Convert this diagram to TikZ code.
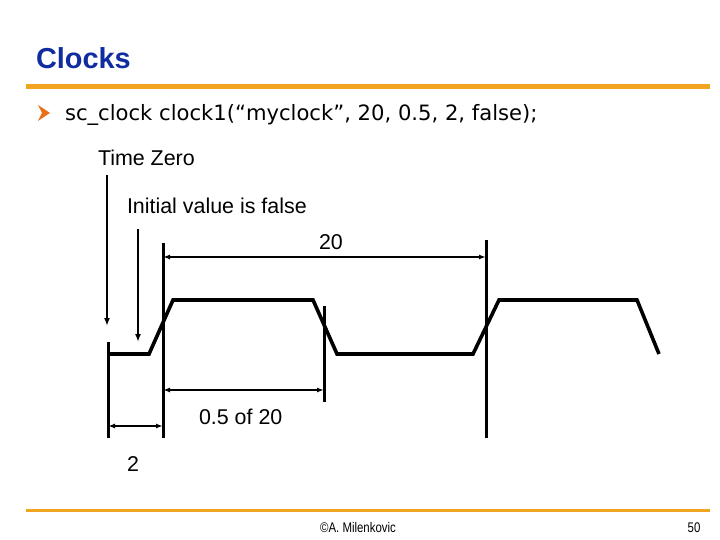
\documentclass[tikz,border=0pt]{standalone}
\usepackage{fontspec}
\setmainfont{Liberation Sans}
\newfontfamily\bulletfont{DejaVu Sans}
\newfontfamily\narrowfont[FakeStretch=0.82]{Liberation Sans}
\usepackage{xcolor}
\usetikzlibrary{arrows.meta}
\definecolor{titleblue}{RGB}{16,44,160}
\definecolor{ruleorange}{RGB}{240,164,32}
\definecolor{bulletorange}{RGB}{232,112,24}

\begin{document}
\begin{tikzpicture}[
    x=1bp, y=-1bp,
    every node/.style={inner sep=0pt, outer sep=0pt},
    lbl/.style={font=\fontsize{21.5}{24}\selectfont, anchor=base west},
    wave/.style={line width=3.6bp},
    marker/.style={line width=3bp},
    dim/.style={{Latex[length=7bp,width=5bp]}-{Latex[length=7bp,width=5bp]}, line width=2.6bp},
    pointer/.style={-{Latex[length=8bp,width=6bp]}, line width=2.2bp},
    slidebar/.style={ruleorange, line width=5bp},
]
\useasboundingbox (0,0) rectangle (720,540);

% --------- Title ----------
\node[anchor=base west, font=\fontsize{29}{32}\selectfont\bfseries, text=titleblue]
      (title) at (36,69) {Clocks};
\draw[slidebar] (26,87) -- (710,87);

% --------- Bullet ----------
\fill[bulletorange] (38,105) -- (50,113) -- (38,121) -- (42,113) -- cycle;
\node[anchor=base west, font=\bulletfont\fontsize{21.2}{24}\selectfont]
      (bullet) at (65,121) {sc\_clock clock1(“myclock”, 20, 0.5, 2, false);};

% --------- Labels ----------
\node[lbl] (timezero) at (98,166)  {Time Zero};
\node[lbl] (initval)  at (127,214) {Initial value is false};
\node[lbl] (per)      at (319,250) {20};
\node[lbl] (duty)     at (199,424) {0.5 of 20};
\node[lbl] (start)    at (127,471) {2};

% --------- Time markers ----------
\coordinate (t0a) at (108,342); \coordinate (t0b) at (108,438);
\coordinate (r1a) at (163,243); \coordinate (r1b) at (163,438);
\coordinate (f1a) at (324,306); \coordinate (f1b) at (324,402);
\coordinate (r2a) at (486,240); \coordinate (r2b) at (486,438);
\draw[marker] (t0a) -- (t0b);
\draw[marker] (r1a) -- (r1b);
\draw[marker] (f1a) -- (f1b);
\draw[marker] (r2a) -- (r2b);

% pointers
\coordinate (tzs) at (107,175); \coordinate (tze) at (107,326);
\coordinate (ivs) at (138,229); \coordinate (ive) at (138,342);
\draw[pointer] (tzs) -- (tze);
\draw[pointer] (ivs) -- (ive);

% dimensions
\draw[dim] (r1a |- 0,257) -- (r2a |- 0,257);
\draw[dim] (r1a |- 0,390) -- (f1a |- 0,390);
\draw[dim] (t0a |- 0,426) -- (r1a |- 0,426);

% --------- Waveform ----------
\draw[wave] (108,354) -- (149,354) -- (173,300) -- (313,300) -- (337,354)
      -- (473,354) -- (499,300) -- (637,300) -- (659,354);

% --------- Footer ----------
\draw[ruleorange, line width=3bp] (26,510) -- (710,510);
\node[font=\narrowfont\fontsize{14}{16}\selectfont] (author)  at (358,528) {©A. Milenkovic};
\node[font=\narrowfont\fontsize{14}{16}\selectfont] (pagenum) at (694,528) {50};

\end{tikzpicture}
\end{document}
